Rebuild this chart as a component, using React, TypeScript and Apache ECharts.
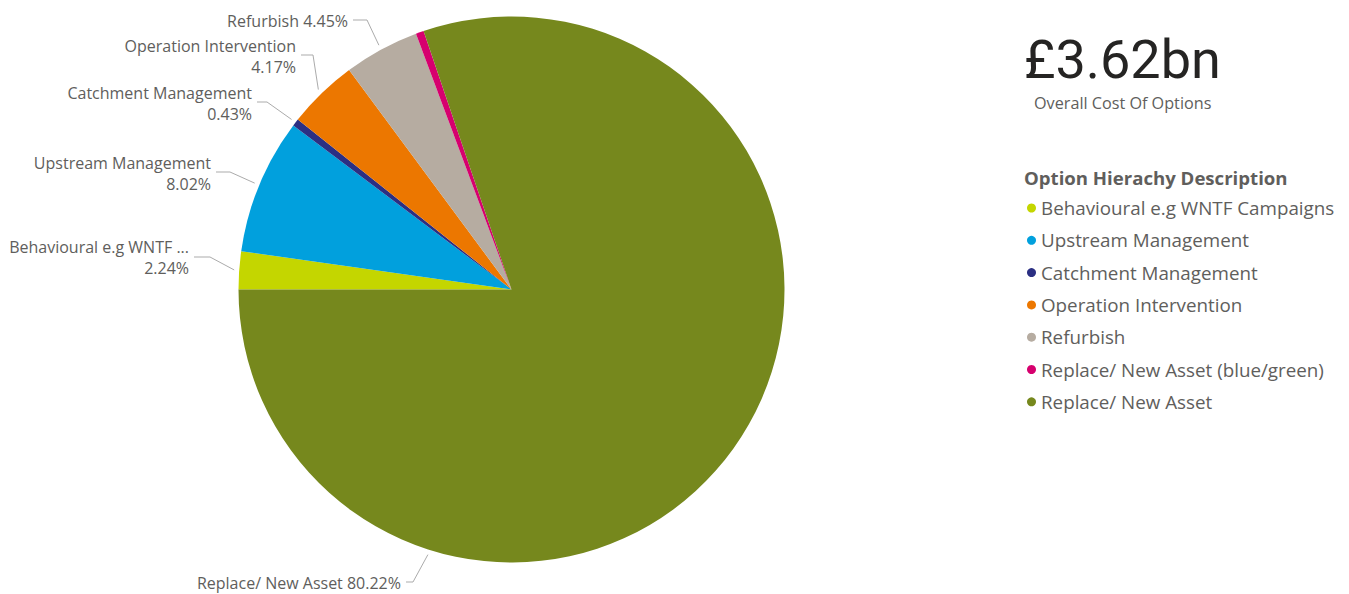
import React, { useEffect, useRef } from "react";
import * as echarts from "echarts";

// ---- data ----
const categories = [
  "Behavioural e.g WNTF Campaigns",
  "Upstream Management",
  "Catchment Management",
  "Operation Intervention",
  "Refurbish",
  "Replace/ New Asset (blue/green)",
  "Replace/ New Asset",
];
const sharePct = [2.24, 8.02, 0.43, 4.17, 4.45, 0.47, 80.22];
const labelNames = [
  "Behavioural e.g WNTF ...",
  "Upstream Management",
  "Catchment Management",
  "Operation Intervention",
  "Refurbish",
  "",
  "Replace/ New Asset",
];
const labelTwoLine = [true, true, true, true, false, false, false];
const colors = ["#C4D600", "#01A0DD", "#2B2F83", "#EC7700", "#B6ACA1", "#D6006E", "#76881D"];
const totalLabel = "£3.62bn";
const totalCaption = "Overall Cost Of Options";
const legendTitle = "Option Hierachy Description";

// ---- layout ----
const CX = 511.5;
const CY = 289.5;
const R = 273;
const LEAD_OUT = 5;
type Spec = { x: number; y: number; lineY: number; elbowX: number; edgeAngle?: number } | null;
const labelSpecs: Spec[] = [
  { x: 189, y: 257.5, lineY: 257, elbowX: 210 },
  { x: 211, y: 173, lineY: 172, elbowX: 230 },
  { x: 252, y: 103, lineY: 102, elbowX: 267 },
  { x: 296, y: 56.5, lineY: 55, elbowX: 313 },
  { x: 348, y: 21, lineY: 20, elbowX: 367 },
  null,
  { x: 401, y: 583, lineY: 582, elbowX: 413, edgeAngle: -107.5 },
];

const FONT = "'Segoe UI', 'Open Sans', sans-serif";

export default function App() {
  const ref = useRef<HTMLDivElement>(null);
  useEffect(() => {
    document.body.style.margin = "0";
    if (!ref.current) return;
    const chart = echarts.init(ref.current, undefined, { renderer: "svg" });
    const total = sharePct.reduce((a, b) => a + b, 0);
    const midAngle = (i: number) => {
      let start = 0;
      for (let k = 0; k < i; k++) start += sharePct[k];
      const mid = (start + sharePct[i] / 2) / total;
      return 180 - mid * 360;
    };
    chart.setOption({
      animation: false,
      color: colors,
      legend: {
        orient: "vertical",
        left: 1022,
        top: 193,
        padding: 5,
        icon: "circle",
        itemWidth: 9,
        itemHeight: 9,
        itemGap: 12.3,
        selectedMode: false,
        data: categories,
        textStyle: { fontSize: 18.8, lineHeight: 20, color: "#605E5C", fontFamily: FONT },
      },
      graphic: [
        {
          type: "text",
          x: 1024,
          y: 59,
          style: {
            text: totalLabel,
            fontSize: 54,
            fontFamily: "Roboto, sans-serif",
            fill: "#252423",
            textVerticalAlign: "middle",
          },
        },
        {
          type: "text",
          x: 1034,
          y: 103,
          style: {
            text: totalCaption,
            fontSize: 16.2,
            fontFamily: FONT,
            fill: "#605E5C",
            textVerticalAlign: "middle",
          },
        },
        {
          type: "text",
          x: 1024,
          y: 177,
          style: {
            text: legendTitle,
            fontSize: 18.6,
            fontWeight: "bold",
            fontFamily: FONT,
            fill: "#605E5C",
            textVerticalAlign: "middle",
          },
        },
      ],
      series: [
        {
          type: "pie",
          center: [CX, CY],
          radius: R,
          startAngle: 180,
          clockwise: true,
          avoidLabelOverlap: false,
          emphasis: { disabled: true },
          data: categories.map((name, i) => ({
            name,
            value: sharePct[i],
            label: { show: labelSpecs[i] !== null },
            labelLine: { show: labelSpecs[i] !== null },
          })),
          label: {
            position: "outside",
            fontSize: 16,
            lineHeight: 21,
            color: "#605E5C",
            fontFamily: FONT,
            align: "right",
            formatter: (p: any) => {
              const i = p.dataIndex;
              const pct = sharePct[i].toFixed(2) + "%";
              return labelTwoLine[i] ? `${labelNames[i]}\n${pct}` : `${labelNames[i]} ${pct}`;
            },
          },
          labelLine: {
            show: true,
            length: 10,
            length2: 10,
            lineStyle: { color: "#ABABAB", width: 1 },
          },
          labelLayout: (params: any) => {
            const s = labelSpecs[params.dataIndex];
            if (!s) return {};
            const ang = ((s.edgeAngle ?? midAngle(params.dataIndex)) * Math.PI) / 180;
            const ex = CX + (R + LEAD_OUT) * Math.cos(ang);
            const ey = CY - (R + LEAD_OUT) * Math.sin(ang);
            return {
              x: s.x,
              y: s.y,
              align: "right",
              verticalAlign: "middle",
              labelLinePoints: [
                [ex, ey],
                [s.elbowX, s.lineY],
                [s.x + 5, s.lineY],
              ],
            };
          },
        },
      ],
    });
    return () => chart.dispose();
  }, []);
  return <div ref={ref} style={{ width: 1349, height: 594 }} />;
}
